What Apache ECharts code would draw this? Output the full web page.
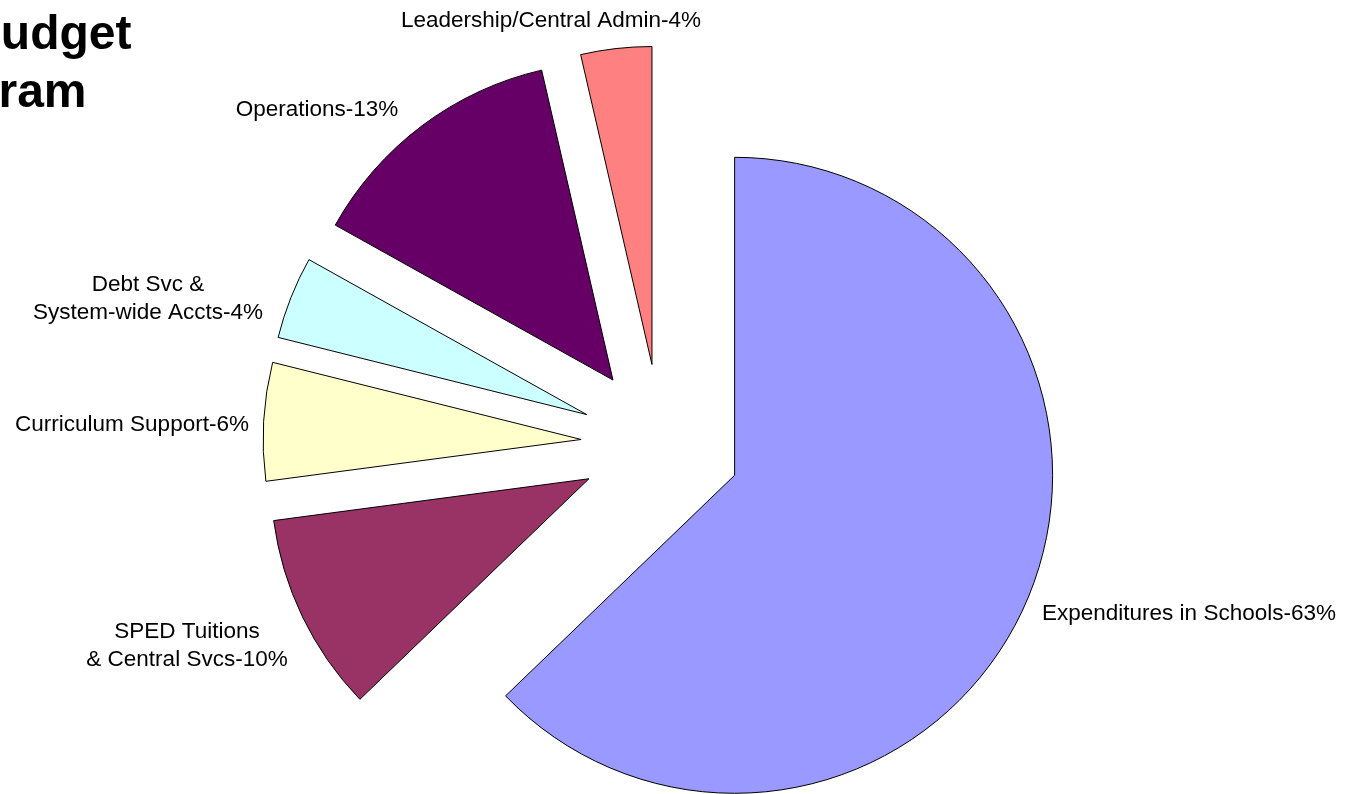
<!DOCTYPE html>
<html>
<head>
<meta charset="utf-8">
<script src="https://cdn.jsdelivr.net/npm/echarts@6/dist/echarts.min.js"></script>
<style>
  html, body { margin: 0; padding: 0; background: #fff; }
  #chart { width: 1354px; height: 794px; }
</style>
</head>
<body>
<div id="chart"></div>
<script>
// ---- data ----
const categories = [
  'Expenditures in Schools',
  'SPED Tuitions\n& Central Svcs',
  'Curriculum Support',
  'Debt Svc &\nSystem-wide Accts',
  'Operations',
  'Leadership/Central Admin'
];
const values = [62.8, 10.1, 6.0, 4.2, 13.3, 3.6];
const pctLabels = ['63%', '10%', '6%', '4%', '13%', '4%'];
const titleLines = ['Budget', 'by Program'];

// ---- styling / layout (not data) ----
const colors = ['#9999FF', '#993366', '#FFFFCC', '#CCFFFF', '#660066', '#FF8080'];
const labelAnchors = [[1189, 614], [187, 646], [132, 425], [148, 299], [317, 110], [551, 21]];
const FONT = '"Liberation Sans", Arial, sans-serif';

const chart = echarts.init(document.getElementById('chart'), null, { renderer: 'canvas' });

const data = categories.map((c, i) => ({
  name: c,
  value: values[i],
  selected: true,
  itemStyle: { color: colors[i] }
}));

const labelGraphics = categories.map((c, i) => ({
  type: 'text',
  x: labelAnchors[i][0],
  y: labelAnchors[i][1],
  silent: true,
  style: {
    text: c + '-' + pctLabels[i],
    align: 'center',
    verticalAlign: 'middle',
    fontFamily: FONT,
    fontSize: 22.5,
    lineHeight: 28,
    fill: '#000'
  }
}));

chart.setOption({
  backgroundColor: '#ffffff',
  animation: false,
  graphic: [
    { type: 'text', x: 131.5, y: 36, style: { text: titleLines[0], align: 'right', verticalAlign: 'middle', fontFamily: FONT, fontWeight: 'bold', fontSize: 48, fill: '#000' } },
    { type: 'text', x: 86.5, y: 94, style: { text: titleLines[1], align: 'right', verticalAlign: 'middle', fontFamily: FONT, fontWeight: 'bold', fontSize: 48, fill: '#000' } }
  ].concat(labelGraphics),
  series: [{
    type: 'pie',
    center: [661, 444],
    radius: [0, 318],
    startAngle: 90,
    clockwise: true,
    selectedMode: 'multiple',
    selectedOffset: 80,
    avoidLabelOverlap: false,
    emphasis: { disabled: true },
    itemStyle: { borderColor: '#000', borderWidth: 1 },
    select: { itemStyle: { borderColor: '#000', borderWidth: 1 } },
    label: { show: false },
    labelLine: { show: false },
    data: data
  }]
});
</script>
</body>
</html>
